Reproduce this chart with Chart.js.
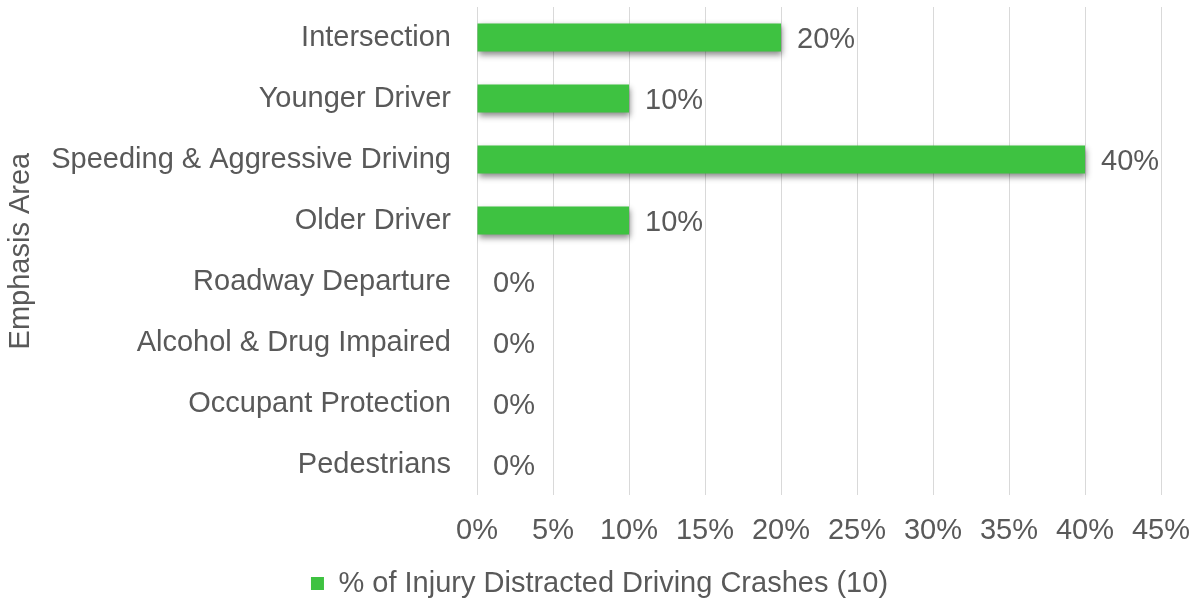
<!DOCTYPE html>
<html>
<head>
<meta charset="utf-8">
<script src="https://cdn.jsdelivr.net/npm/chart.js@4"></script>
<style>
  html, body { margin: 0; padding: 0; background: #fff; }
  #wrap { width: 1199px; height: 603px; }
</style>
</head>
<body>
<div id="wrap"><canvas id="distractedChart"></canvas></div>
<script>
const categories = ['Intersection', 'Younger Driver', 'Speeding & Aggressive Driving', 'Older Driver',
    'Roadway Departure', 'Alcohol & Drug Impaired', 'Occupant Protection', 'Pedestrians'];
const crashShare = [20, 10, 40, 10, 0, 0, 0, 0];
const seriesLabel = '% of Injury Distracted Driving Crashes (10)';
const axisTitle = 'Emphasis Area';

const textColor = '#595959';
const fontFamily = '"Liberation Sans", Arial, sans-serif';
const fontSize = 29;

// soft shadow under the bars, like the office chart
const barShadow = {
    id: 'barShadow',
    beforeDatasetDraw(chart) {
        const c = chart.ctx;
        c.save();
        c.shadowColor = 'rgba(0,0,0,0.45)';
        c.shadowBlur = 6;
        c.shadowOffsetX = 1;
        c.shadowOffsetY = 3;
    },
    afterDatasetDraw(chart) {
        chart.ctx.restore();
    }
};

// value labels at the end of each bar
const valueLabels = {
    id: 'valueLabels',
    afterDatasetsDraw(chart) {
        const c = chart.ctx;
        const meta = chart.getDatasetMeta(0);
        c.save();
        c.font = fontSize + 'px ' + fontFamily;
        c.fillStyle = textColor;
        c.textAlign = 'left';
        c.textBaseline = 'middle';
        meta.data.forEach(function(bar, i) {
            c.fillText(crashShare[i] + '%', bar.x + 16, bar.y + 2);
        });
        c.restore();
    }
};

document.addEventListener('DOMContentLoaded', function() {
    const ctx = document.getElementById('distractedChart');
    if (!ctx) return;

    Chart.defaults.font.family = fontFamily;
    Chart.defaults.color = textColor;

    new Chart(ctx, {
        type: 'bar',
        data: {
            labels: categories,
            datasets: [{
                label: seriesLabel,
                data: crashShare,
                backgroundColor: '#3EC241',
                borderWidth: 0,
                categoryPercentage: 1,
                barPercentage: 0.46
            }]
        },
        options: {
            indexAxis: 'y',
            responsive: true,
            maintainAspectRatio: false,
            animation: false,
            layout: { padding: { top: 7, right: 0, left: 0, bottom: -5 } },
            plugins: {
                legend: {
                    position: 'bottom',
                    labels: {
                        boxWidth: 13,
                        boxHeight: 13,
                        padding: 3,
                        font: { size: fontSize },
                        color: textColor
                    }
                },
                tooltip: { enabled: false }
            },
            scales: {
                x: {
                    min: 0,
                    max: 45,
                    afterFit: function(scale) {
                        scale.paddingRight = 38;
                    },
                    ticks: {
                        stepSize: 5,
                        padding: 18,
                        font: { size: fontSize },
                        color: textColor,
                        callback: function(v) { return v + '%'; }
                    },
                    grid: { color: '#D9D9D9', lineWidth: 1, drawTicks: false },
                    border: { display: false }
                },
                y: {
                    afterFit: function(scale) {
                        scale.width = 477;
                        scale.paddingTop = 0;
                        scale.paddingBottom = 0;
                    },
                    ticks: {
                        padding: 26,
                        font: { size: fontSize },
                        color: textColor
                    },
                    grid: { display: false, drawTicks: false },
                    border: { display: false },
                    title: {
                        display: true,
                        text: axisTitle,
                        font: { size: fontSize },
                        color: textColor,
                        padding: { top: 4, bottom: 4 }
                    }
                }
            }
        },
        plugins: [barShadow, valueLabels]
    });
});
</script>
</body>
</html>
